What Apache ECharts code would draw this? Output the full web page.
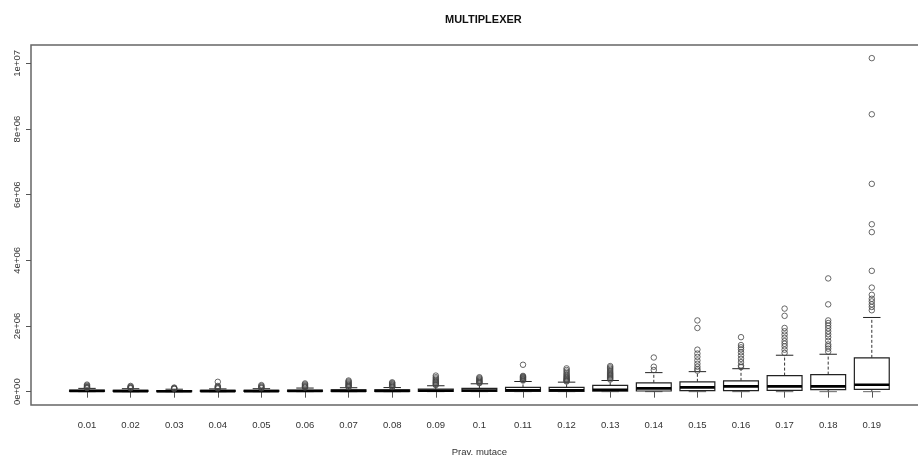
<!DOCTYPE html>
<html>
<head>
<meta charset="utf-8">
<script src="https://cdn.jsdelivr.net/npm/echarts@6/dist/echarts.min.js"></script>
<style>
html,body{margin:0;padding:0;background:#fff;}
#chart{width:918px;height:458px;}
</style>
</head>
<body>
<div id="chart"></div>
<script>
// ---- data ----
const categories = ["0.01","0.02","0.03","0.04","0.05","0.06","0.07","0.08","0.09","0.1",
  "0.11","0.12","0.13","0.14","0.15","0.16","0.17","0.18","0.19"];
// [lower whisker, Q1, median, Q3, upper whisker]
const boxStats = [
  [0, 5000, 20000, 45000, 100000],
  [0, 5000, 18000, 40000, 90000],
  [0, 4000, 15000, 35000, 75000],
  [0, 5000, 18000, 40000, 85000],
  [0, 5000, 18000, 40000, 90000],
  [0, 6000, 22000, 50000, 110000],
  [0, 7000, 25000, 55000, 120000],
  [0, 7000, 25000, 55000, 125000],
  [0, 9000, 30000, 75000, 180000],
  [0, 10000, 35000, 100000, 240000],
  [0, 12000, 45000, 130000, 310000],
  [0, 12000, 45000, 130000, 290000],
  [0, 15000, 60000, 190000, 340000],
  [0, 20000, 100000, 270000, 580000],
  [0, 30000, 130000, 300000, 610000],
  [0, 30000, 160000, 330000, 700000],
  [0, 40000, 160000, 490000, 1110000],
  [0, 60000, 160000, 520000, 1140000],
  [0, 70000, 210000, 1030000, 2260000]
];
const outliers = [
  [110000,125000,140000,160000,185000,215000],
  [100000,115000,130000,150000,175000],
  [85000,95000,110000,125000],
  [95000,110000,130000,150000,175000,300000],
  [100000,120000,140000,170000,200000],
  [125000,145000,165000,190000,220000,250000],
  [135000,155000,175000,200000,225000,250000,280000,310000,340000],
  [140000,160000,180000,205000,230000,260000,285000],
  [200000,225000,250000,275000,300000,330000,360000,400000,440000,490000],
  [260000,280000,300000,325000,350000,380000,410000,440000],
  [340000,360000,380000,400000,420000,440000,460000,480000,820000],
  [310000,330000,350000,370000,390000,420000,450000,480000,520000,560000,610000,660000,710000],
  [370000,400000,430000,460000,490000,520000,550000,580000,620000,660000,700000,740000,780000],
  [660000,760000,1040000],
  [640000,690000,760000,850000,950000,1060000,1160000,1280000,1940000,2170000],
  [750000,800000,900000,1000000,1100000,1200000,1290000,1350000,1420000,1660000],
  [1180000,1280000,1380000,1460000,1540000,1640000,1740000,1840000,1940000,2310000,2530000],
  [1220000,1310000,1380000,1440000,1550000,1660000,1750000,1840000,1930000,2010000,2090000,2170000,2660000,3450000],
  [2480000,2580000,2660000,2750000,2830000,2950000,3170000,3680000,4860000,5100000,6330000,8450000,10160000]
];
const yTickValues = [0, 2000000, 4000000, 6000000, 8000000, 10000000];
const yTickLabels = ["0e+00", "2e+06", "4e+06", "6e+06", "8e+06", "1e+07"];
const titleText = "MULTIPLEXER";
const xTitle = "Prav. mutace";

// ---- build ----
const boxData = boxStats.map((s, i) => [i].concat(s));
const outlierData = [];
outliers.forEach((arr, i) => arr.forEach(v => outlierData.push([i, v])));

function renderBox(params, api) {
  const i = api.value(0);
  const lo = api.coord([i, api.value(1)]);
  const q1 = api.coord([i, api.value(2)]);
  const md = api.coord([i, api.value(3)]);
  const q3 = api.coord([i, api.value(4)]);
  const hi = api.coord([i, api.value(5)]);
  const band = api.size([1, 0])[0];
  const bw = band * 0.8;
  const sw = bw * 0.5;
  const cx = q1[0];
  const ink = '#222';
  return {
    type: 'group',
    children: [
      { type: 'line', shape: { x1: cx, y1: q3[1], x2: cx, y2: hi[1] },
        style: { stroke: '#333', lineWidth: 1, lineDash: [3, 2] } },
      { type: 'line', shape: { x1: cx, y1: q1[1], x2: cx, y2: lo[1] },
        style: { stroke: '#333', lineWidth: 1, lineDash: [3, 2] } },
      { type: 'line', shape: { x1: cx - sw / 2, y1: hi[1], x2: cx + sw / 2, y2: hi[1] },
        style: { stroke: ink, lineWidth: 1 } },
      { type: 'line', shape: { x1: cx - sw / 2, y1: lo[1], x2: cx + sw / 2, y2: lo[1] },
        style: { stroke: '#666', lineWidth: 1 } },
      { type: 'rect', shape: { x: cx - bw / 2, y: q3[1], width: bw, height: q1[1] - q3[1] },
        style: { fill: '#fff', stroke: ink, lineWidth: 1.2 } },
      { type: 'line', shape: { x1: cx - bw / 2, y1: md[1], x2: cx + bw / 2, y2: md[1] },
        style: { stroke: '#000', lineWidth: 2.6 } }
    ]
  };
}

const chart = echarts.init(document.getElementById('chart'), null, { renderer: 'canvas' });
const axisFont = 'Liberation Sans, Arial, sans-serif';
chart.setOption({
  animation: false,
  backgroundColor: '#fff',
  title: {
    text: titleText,
    left: 440,
    top: 9,
    textStyle: { fontFamily: axisFont, fontSize: 11, fontWeight: 'bold', color: '#111' }
  },
  grid: [
    { left: 31, top: 45, width: 896, height: 360, show: true, borderColor: '#666', borderWidth: 1.5,
      backgroundColor: 'transparent', outerBoundsMode: 'none', containLabel: false },
    { left: 65.2, top: 45, width: 828.4, height: 360, show: false, outerBoundsMode: 'none', containLabel: false }
  ],
  xAxis: [
    { gridIndex: 0, type: 'value', show: false, min: 0, max: 1 },
    {
      gridIndex: 1, type: 'category', data: categories, boundaryGap: true,
      axisLine: { show: false },
      axisTick: { show: true, alignWithLabel: true, length: 6, lineStyle: { color: '#555' } },
      axisLabel: { margin: 15, fontSize: 9.5, color: '#333', fontFamily: axisFont, interval: 0 },
      name: xTitle, nameLocation: 'middle', nameGap: 42,
      nameTextStyle: { fontSize: 9.5, color: '#333', fontFamily: axisFont },
      splitLine: { show: false }
    }
  ],
  yAxis: [
    { gridIndex: 0, type: 'value', show: false, min: 0, max: 1 },
    {
      gridIndex: 1, type: 'value', min: -406000, max: 10560000,
      offset: 34.2,
      axisLine: { show: false },
      axisTick: { show: true, length: 5, customValues: yTickValues, lineStyle: { color: '#555' } },
      axisLabel: {
        customValues: yTickValues, rotate: 90, margin: 9, fontSize: 9.5, color: '#333', fontFamily: axisFont,
        formatter: function (v) { const k = yTickValues.indexOf(v); return k >= 0 ? yTickLabels[k] : ''; }
      },
      splitLine: { show: false }
    }
  ],
  series: [
    {
      type: 'custom', xAxisIndex: 1, yAxisIndex: 1,
      renderItem: renderBox,
      encode: { x: 0, y: [1, 2, 3, 4, 5] },
      data: boxData,
      z: 2
    },
    {
      type: 'scatter', xAxisIndex: 1, yAxisIndex: 1,
      symbol: 'circle', symbolSize: 5.5,
      itemStyle: { color: 'rgba(0,0,0,0)', borderColor: '#444', borderWidth: 1 },
      data: outlierData,
      z: 3
    }
  ]
});
</script>
</body>
</html>
